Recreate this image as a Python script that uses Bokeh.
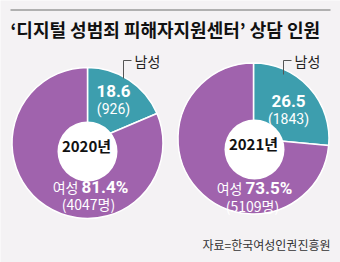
import math
from bokeh.plotting import figure
from bokeh.models import Range1d
from bokeh.core.properties import value
from bokeh.embed import file_html
from bokeh.resources import INLINE

# ---- data ----
years = ["2020년", "2021년"]
male_pct = [18.6, 26.5]
female_pct = [81.4, 73.5]
male_n = [926, 1843]
female_n = [4047, 5109]
title = "‘디지털 성범죄 피해자지원센터’ 상담 인원"
source = "자료=한국여성인권진흥원"

W, H = 340, 262
BG = "#f4f2f4"
PURPLE = "#a063ad"
TEAL = "#3d9eae"
KR = value("Noto Sans CJK KR")
NUM = value("Roboto")

def Y(s):
    return H - s

p = figure(width=W, height=H, x_range=Range1d(0, W), y_range=Range1d(0, H),
           output_backend="svg", toolbar_location=None, min_border=0)
p.axis.visible = False
p.grid.visible = False
p.outline_line_color = None
p.background_fill_color = BG
p.border_fill_color = BG

# top rule
p.line([10, 330], [Y(9.5), Y(9.5)], line_color="#b0b0b0", line_width=2)
p.text([10], [Y(28)], text=[title], text_font=KR, text_font_style="bold",
       text_font_size="18px", text_color="#111111", text_baseline="middle", text_align="left")

centers = [(87, 142.5), (253, 138)]
holes = [(87, 151), (254, 149)]
R = 75.5
male_lbl = [(113, 90, 108), (288, 100, 118)]
fem_lbl = [(79, 186, 203), (243, 187, 205)]
bracket = [(123, 78, 60, 131), (283, 74, 60, 291)]

for i in range(2):
    cx, cy = centers[i]
    a = math.pi / 2 - 2 * math.pi * male_pct[i] / 100
    p.wedge(x=[cx], y=[Y(cy)], radius=R, start_angle=[a], end_angle=[math.pi / 2],
            fill_color=TEAL, line_color="white", line_width=1.5)
    p.wedge(x=[cx], y=[Y(cy)], radius=R, start_angle=[math.pi / 2], end_angle=[a],
            fill_color=PURPLE, line_color="white", line_width=1.5)
    hx, hy = holes[i]
    p.circle(x=[hx], y=[Y(hy)], radius=30, fill_color="white", line_color=None)
    p.text([hx - 1], [Y(hy - 6)], text=[years[i]], text_font=KR, text_font_style="bold",
           text_font_size="15px", text_color="#111111", text_align="center", text_baseline="middle")
    # male labels
    mx, my1, my2 = male_lbl[i]
    p.text([mx], [Y(my1)], text=[f"{male_pct[i]:.1f}"], text_font=NUM, text_font_style="bold",
           text_font_size="17px", text_color="white", text_align="center", text_baseline="middle")
    p.text([mx], [Y(my2)], text=[f"({male_n[i]})"], text_font=NUM,
           text_font_size="14px", text_color="white", text_align="center", text_baseline="middle")
    # female labels
    fx, fy1, fy2 = fem_lbl[i]
    p.text([fx - 1], [Y(fy1)], text=["여성"], text_font=KR,
           text_font_size="14px", text_color="white", text_align="right", text_baseline="middle")
    p.text([fx + 2], [Y(fy1)], text=[f"{female_pct[i]:.1f}%"], text_font=NUM, text_font_style="bold",
           text_font_size="17px", text_color="white", text_align="left", text_baseline="middle")
    p.text([fx + 9], [Y(fy2)], text=[f"({female_n[i]}명)"], text_font=KR,
           text_font_size="14px", text_color="white", text_align="center", text_baseline="middle")
    # leader for 남성
    bx, by0, by1, bx2 = bracket[i]
    p.line([bx, bx, bx2], [Y(by0), Y(by1), Y(by1)], line_color="#555555", line_width=1)
    p.text([bx2 + 3], [Y(by1)], text=["남성"], text_font=KR,
           text_font_size="14px", text_color="#222222", text_align="left", text_baseline="middle")

p.text([330], [Y(244)], text=[source], text_font=KR, text_font_size="12px",
       text_color="#333333", text_align="right", text_baseline="middle")

open("out.html", "w").write(file_html(p, INLINE))
